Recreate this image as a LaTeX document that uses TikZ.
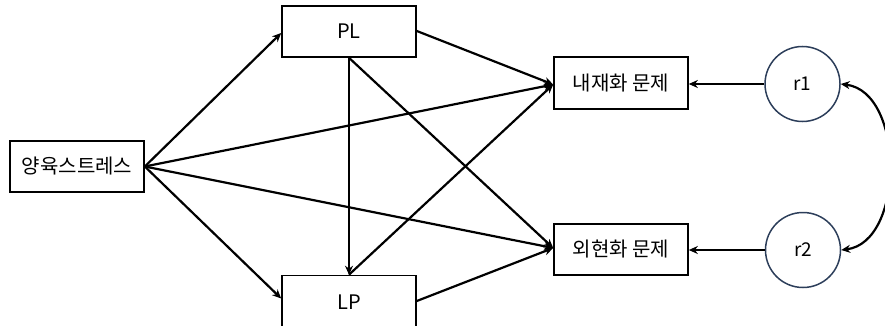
\documentclass[tikz,border=0pt]{standalone}
\usepackage{fontspec}
\setmainfont{Noto Sans CJK KR}
\usetikzlibrary{arrows.meta,calc}
\definecolor{circ}{RGB}{44,62,90}
\tikzset{
  box/.style={draw=black, line width=1.6pt, fill=white, minimum width=134pt, inner sep=0pt, font=\fontsize{20}{22}\selectfont},
  resid/.style={draw=circ, line width=1.5pt, circle, minimum size=75pt, inner sep=0pt, font=\fontsize{19}{21}\selectfont},
  arr/.style={line width=2.2pt, -{Stealth[length=9pt,width=8pt]}},
  dbl/.style={line width=2.2pt, {Stealth[length=9pt,width=8pt]}-{Stealth[length=9pt,width=8pt]}}
}
\begin{document}
\begin{tikzpicture}[x=1pt,y=-1pt]
\useasboundingbox (0,0) rectangle (885,326);
\node[box, minimum height=51pt] (ps) at (77,166.5) {양육스트레스};
\node[box, minimum height=51pt] (pl) at (349,31.5) {PL};
\node[box, minimum height=54pt] (lp) at (349,302.5) {LP};
\node[box, minimum height=52pt] (in) at (621,83) {내재화 문제};
\node[box, minimum height=51pt] (ex) at (621,249.5) {외현화 문제};
\node[resid] (r1) at (802.5,84) {r1};
\node[resid] (r2) at (803,250) {r2};
\coordinate (inL) at ($(in.west)+(0,-1.5pt)$);
\coordinate (exL) at ($(ex.west)+(0,1.5pt)$);
\coordinate (plB) at (pl.south);
\coordinate (lpT) at (lp.north);
\draw[arr] (ps.east) -- ($(pl.west)+(0,-1.5pt)$);
\draw[arr] (ps.east) -- ($(lp.west)+(0,4pt)$);
\draw[arr] (ps.east) -- (inL);
\draw[arr] (ps.east) -- (exL);
\draw[arr] ($(pl.east)+(0,0.5pt)$) -- (inL);
\draw[arr] (plB) -- (lpT);
\draw[arr] (plB) -- (exL);
\draw[arr] (lpT) -- (inL);
\draw[arr] ($(lp.east)+(0,1.5pt)$) -- (exL);
\draw[arr] (r1.west) -- (in.east |- r1.west);
\draw[arr] (r2.west) -- (ex.east |- r2.west);
\draw[dbl] (r1.east) .. controls (905,92) and (905,242) .. (r2.east);
\end{tikzpicture}
\end{document}
